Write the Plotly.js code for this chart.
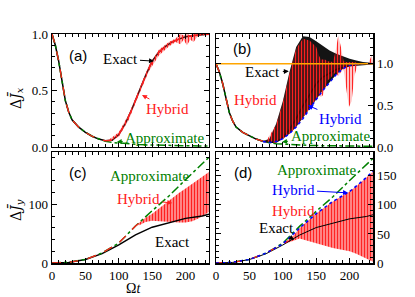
<!DOCTYPE html>
<html>
<head>
<meta charset="utf-8">
<script src="https://cdn.plot.ly/plotly-3.0.1.min.js"></script>
<style>html,body{margin:0;padding:0;background:#fff;}#chart{width:415px;height:297px;}</style>
</head>
<body>
<div id="chart"></div>
<script>
// ---------- data ----------
// Panels (a),(b): Delta J_x
const tX = [0,5,10,15,20,25,30,40,50,60,70,80,90,100,110,120,130,140,150,160,170,180,190,200,210,220,235];
const exactX = [1.0,0.9,0.76,0.57,0.41,0.31,0.24,0.175,0.13,0.095,0.07,0.055,0.06,0.11,0.21,0.34,0.49,0.63,0.76,0.84,0.89,0.93,0.955,0.975,0.985,0.992,1.0];
const approxX = [1.0,0.9,0.76,0.57,0.41,0.31,0.24,0.175,0.13,0.095,0.07,0.05,0.04,0.034,0.029,0.025,0.022,0.019,0.017,0.015,0.013,0.012,0.011,0.010,0.009,0.009,0.008];
const hybridX = [1.0,0.9,0.76,0.57,0.41,0.31,0.24,0.175,0.13,0.095,0.07,0.055,0.06,0.11,0.21,0.34,0.49,0.63,0.76,0.84,0.89,0.93,0.955,0.975,0.985,0.992,1.0];
// (a) hybrid oscillation envelope
const tHybBandA = [85,100,115,130,145,160,175,185,192,197,202,207,212,218,225,235];
const hybBandAUp = [0.065,0.13,0.29,0.51,0.72,0.86,0.93,0.96,1.0,0.99,1.0,0.99,1.0,1.0,1.0,1.0];
const hybBandALow = [0.045,0.09,0.24,0.46,0.67,0.81,0.89,0.93,0.91,0.95,0.9,0.95,0.93,0.98,0.99,0.99];
// (b) exact oscillation envelope and hybrid (blue) lower curve
const tBandB = [70,80,90,100,110,120,130,140,150,160,170,180,190,200,210,220,235];
const exactBandBUp = [0.07,0.1,0.28,0.55,0.9,1.2,1.33,1.32,1.27,1.21,1.16,1.12,1.09,1.06,1.04,1.02,1.01];
const hybridBlueB = [0.065,0.055,0.065,0.1,0.16,0.24,0.34,0.46,0.57,0.68,0.78,0.87,0.94,0.98,1.0,1.0,1.0];
// (b) red hybrid oscillation envelope
const tHybBandB = [75,90,100,110,120,130,140,150,154,157,160,163,167,175,179,183,187,191,195,199,203,207,212,220,228,231,233,235];
const hybBandBUp = [0.07,0.27,0.53,0.88,1.18,1.3,1.28,1.2,1.1,1.05,1.05,1.05,1.03,1.02,1.15,1.34,1.2,1.03,1.02,1.02,1.02,1.02,1.01,1.0,1.01,1.08,1.1,1.03];
const hybBandBLow = [0.06,0.065,0.1,0.16,0.24,0.34,0.46,0.57,0.62,0.6,0.62,0.7,0.8,0.86,0.9,0.85,0.9,0.94,0.7,0.48,0.55,0.85,0.99,1.0,1.0,1.0,1.0,1.0];
const tLevel = [0,235];
const level = [1.0,1.0];

// Panels (c),(d): Delta J_y
const tY = [0,25,50,75,100,125,150,175,200,225,235];
const exactY = [0,1,6,16,31,48,61,69,76,80,83];
const approxY = [0,1.2,6,17,34,63,89,114,142,168,180];
const tHybC = [0,25,50,75,100,125,135];
const hybC = [0,1.2,6,17,34,63,72];
const tHybBandC = [130,140,150,160,170,180,190,200,210,220,230,235];
const hybBandCUp = [68,77,84,93,102,111,119,127,135,143,151,155];
const hybBandCLow = [64,70,72,72,71,70,69,69,71,76,83,87];
const tHybD = [0,25,50,75,100,108];
const hybD = [0,1.2,6,17,33,38];
const tBlueD = [0,25,50,75,100,125,150,175,200,210,220,235];
const hybridBlueD = [0,1.2,6,17,33,60,85,106,123,132,142,158];
const tHybBandD = [105,115,125,150,175,200,210,220,228,235];
const hybBandDUp = [37,46,60,85,106,123,132,142,150,157];
const hybBandDLow = [34,38,42,34,26,20,16,10,6,2];

// ---------- styles ----------
const BLACK='#000000', GREEN='#008000', RED='#ff2020', BLUE='#0000ff', ORANGE='#ffa500';
const SERIF='Liberation Serif';

function line(x,y,xa,ya,color,dash,width){
  return {type:'scatter',mode:'lines',x:x,y:y,xaxis:xa,yaxis:ya,
    line:{color:color,dash:dash||'solid',width:width||1.5},hoverinfo:'skip',showlegend:false};
}
function band(t,up,low,xa,ya,fg,bg,size,sol){
  const xs=t.concat(t.slice().reverse());
  const ys=up.concat(low.slice().reverse());
  const tr={type:'scatter',mode:'lines',x:xs,y:ys,xaxis:xa,yaxis:ya,fill:'toself',
    fillcolor:bg,line:{width:0,color:'rgba(0,0,0,0)'},hoverinfo:'skip',showlegend:false};
  if(fg){ tr.fillpattern={shape:'|',fgcolor:fg,bgcolor:bg,size:size,solidity:sol,fillmode:'replace'}; }
  return tr;
}

const traces = [
  // (a)
  line(tX,exactX,'x','y',BLACK,'solid',1.5),
  line(tX,approxX,'x','y',GREEN,'dashdot',1.5),
  band(tHybBandA,hybBandAUp,hybBandALow,'x','y',RED,'rgba(0,0,0,0)',3,0.6),
  line(tX,hybridX,'x','y',RED,'dash',1.3),
  // (b)
  line(tX,exactX,'x2','y2',BLACK,'solid',1.5),
  band(tBandB,exactBandBUp,hybridBlueB,'x2','y2',null,'rgba(0,0,0,0.92)'),
  band(tHybBandB,hybBandBUp,hybBandBLow,'x2','y2',RED,'rgba(0,0,0,0)',3,0.5),
  line(tX,approxX,'x2','y2',GREEN,'dashdot',1.5),
  line(tX.slice(0,13),hybridX.slice(0,13),'x2','y2',RED,'dash',1.3),
  line(tBandB,hybridBlueB,'x2','y2',BLUE,'dot',1.5),
  line(tLevel,level,'x2','y2',ORANGE,'solid',1.5),
  // (c)
  band(tHybBandC,hybBandCUp,hybBandCLow,'x3','y3',RED,'rgba(0,0,0,0)',3,0.7),
  line(tY,exactY,'x3','y3',BLACK,'solid',1.5),
  line(tY,approxY,'x3','y3',GREEN,'dashdot',1.5),
  line(tHybC,hybC,'x3','y3',RED,'dash',1.3),
  // (d)
  band(tHybBandD,hybBandDUp,hybBandDLow,'x4','y4',RED,'rgba(0,0,0,0)',3,0.7),
  line(tY,exactY,'x4','y4',BLACK,'solid',1),
  line(tY,approxY,'x4','y4',GREEN,'dashdot',1.5),
  line(tHybD,hybD,'x4','y4',RED,'dash',1.3),
  line(tBlueD,hybridBlueD,'x4','y4',BLUE,'dot',1.5)
];

const tickFont={family:SERIF,size:13,color:'#000'};
function xax(domain,anchor,labels){
  return {domain:domain,anchor:anchor,range:[0,235],dtick:50,tick0:0,
    showticklabels:labels,tickfont:tickFont,showline:true,linecolor:'#000',linewidth:1.5,
    mirror:'allticks',ticks:'inside',ticklen:5,tickwidth:1,tickcolor:'#000',
    minor:{dtick:10,ticks:'inside',ticklen:3,tickwidth:1,tickcolor:'#000'},
    showgrid:false,zeroline:false,fixedrange:true};
}
function yax(domain,anchor,range,dtick,mdtick,side,fmt){
  return {domain:domain,anchor:anchor,range:range,dtick:dtick,tick0:0,side:side,
    tickformat:fmt,tickfont:tickFont,showline:true,linecolor:'#000',linewidth:1.5,
    mirror:'allticks',ticks:'inside',ticklen:5,tickwidth:1,tickcolor:'#000',
    minor:{dtick:mdtick,ticks:'inside',ticklen:3,tickwidth:1,tickcolor:'#000'},
    showgrid:false,zeroline:false,fixedrange:true};
}

const aFont={family:SERIF,size:15};
function ann(xa,ya,x,y,text,color,ax,ay,arrow){
  return {xref:xa,yref:ya,x:x,y:y,text:text,font:Object.assign({},aFont,{color:color}),
    showarrow:arrow,ax:ax,ay:ay,arrowhead:2,arrowsize:1,arrowwidth:1,arrowcolor:color,
    standoff:0,startstandoff:1,xanchor:'center',yanchor:'middle'};
}
function pann(px,py,text,font,extra){
  return Object.assign({xref:'paper',yref:'paper',x:(px-52)/321,y:(263-py)/229,text:text,
    showarrow:false,font:font,xanchor:'center',yanchor:'middle'},extra||{});
}
const letterFont={family:'Liberation Sans',size:15,color:'#000'};
const titleFont={family:'DejaVu Serif',size:14,color:'#000'};

const annotations=[
  pann(78,55,'(a)',letterFont), pann(242,48,'(b)',letterFont),
  pann(78,172,'(c)',letterFont), pann(243,172,'(d)',letterFont),
  pann(16,98,'Δ<i>J̄</i><sub><i>x</i></sub>',titleFont,{textangle:-90}),
  pann(16,210,'Δ<i>J̄</i><sub><i>y</i></sub>',titleFont,{textangle:-90}),
  pann(133,288.5,'Ω<i>t</i>',{family:SERIF,size:14,color:'#000'},{borderpad:0}),
  // (a)
  ann('x','y',152.7,0.76,'Exact',BLACK,-34,-2,true),
  ann('x','y',134.7,0.46,'Hybrid',RED,26,14,true),
  ann('x','y',97,0.045,'Approximate',GREEN,48,-4,true),
  // (b)
  ann('x2','y2',109,0.91,'Exact',BLACK,-26,1,true),
  ann('x2','y2',95.8,0.45,'Hybrid',RED,-25,-10,true),
  ann('x2','y2',137.7,0.5,'Hybrid',BLUE,32,14,true),
  ann('x2','y2',98.8,0.06,'Approximate',GREEN,48,-6,true),
  // (c)
  pann(149,176,'Approximate',Object.assign({},aFont,{color:GREEN})),
  ann('x3','y3',180,102,'Hybrid',RED,-34,-4,true),
  pann(172,242,'Exact',Object.assign({},aFont,{color:BLACK})),
  // (d)
  pann(316,170,'Approximate',Object.assign({},aFont,{color:GREEN})),
  ann('x4','y4',197.6,120.7,'Hybrid',BLUE,-55,-3,true),
  pann(293,211,'Hybrid',Object.assign({},aFont,{color:RED})),
  ann('x4','y4',116.8,39.7,'Exact',BLACK,-18,-12,true)
];

const layout={
  width:415,height:297,margin:{l:52,r:42,t:34,b:34},
  paper_bgcolor:'#fff',plot_bgcolor:'#fff',showlegend:false,
  font:{family:SERIF,color:'#000'},
  xaxis:xax([0,0.489],'y',false),
  yaxis:yax([0.5066,1],'x',[0,1.0],0.5,0.1,'left','.1f'),
  xaxis2:xax([0.511,1],'y2',false),
  yaxis2:yax([0.5066,1],'x2',[0,1.357],0.5,0.1,'right','.1f'),
  xaxis3:xax([0,0.489],'y3',true),
  yaxis3:yax([0,0.4847],'x3',[0,189],100,20,'left','d'),
  xaxis4:xax([0.511,1],'y4',true),
  yaxis4:yax([0,0.4847],'x4',[0,191],50,10,'right','d'),
  annotations:annotations
};
Plotly.newPlot('chart',traces,layout,{staticPlot:true,displayModeBar:false});
</script>
</body>
</html>
